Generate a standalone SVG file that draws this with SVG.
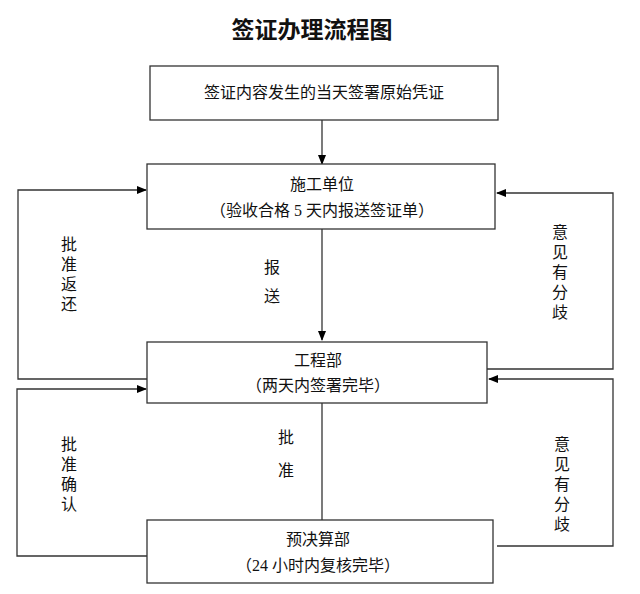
<svg xmlns="http://www.w3.org/2000/svg" width="640" height="594" viewBox="0 0 640 594">
<defs>
<marker id="ah" markerWidth="10" markerHeight="8" refX="9" refY="4" orient="auto" markerUnits="userSpaceOnUse"><path d="M0,0 L10,4 L0,8 Z" fill="#000"/></marker>
<style>
.box{fill:#fff;stroke:#333;stroke-width:1.3}
.t{font-family:"Liberation Serif","Noto Sans CJK SC",serif;font-size:16px;fill:#111;text-anchor:middle}
.ln{fill:none;stroke:#333;stroke-width:1.3}
</style>
</defs>
<rect width="640" height="594" fill="#fff"/>
<text x="312" y="38" class="t" style="font-size:23px;font-weight:bold;font-family:'Noto Sans CJK SC',sans-serif">签证办理流程图</text>
<g id="connectors">
<path class="ln" d="M322,120 V164" marker-end="url(#ah)"/>
<path class="ln" d="M322,229 V340" marker-end="url(#ah)"/>
<path class="ln" d="M322,403 V520"/>
<path class="ln" d="M147,379 H18 V190 H146" marker-end="url(#ah)"/>
<path class="ln" d="M147,556 H17 V389 H146" marker-end="url(#ah)"/>
<path class="ln" d="M487,369 H613 V193 H497" marker-end="url(#ah)"/>
<path class="ln" d="M497,546 H613 V379 H489" marker-end="url(#ah)"/>
<text class="t" x="272" y="273">报</text><text class="t" x="272" y="302">送</text>
<text class="t" x="286" y="443">批</text><text class="t" x="286" y="476">准</text>
<text class="t" x="69" y="250">批</text><text class="t" x="69" y="270">准</text><text class="t" x="69" y="290">返</text><text class="t" x="69" y="310">还</text>
<text class="t" x="69" y="450">批</text><text class="t" x="69" y="470">准</text><text class="t" x="69" y="490">确</text><text class="t" x="69" y="510">认</text>
<text class="t" x="560" y="238">意</text><text class="t" x="560" y="258">见</text><text class="t" x="560" y="278">有</text><text class="t" x="560" y="298">分</text><text class="t" x="560" y="318">歧</text>
<text class="t" x="562" y="450">意</text><text class="t" x="562" y="470">见</text><text class="t" x="562" y="490">有</text><text class="t" x="562" y="510">分</text><text class="t" x="562" y="530">歧</text>
</g>
<g id="n1"><rect class="box" x="150" y="66" width="348" height="54"/><text class="t" x="324" y="98">签证内容发生的当天签署原始凭证</text></g>
<g id="n2"><rect class="box" x="147" y="164" width="348" height="65"/><text class="t" x="322" y="190">施工单位</text><text class="t" x="322" y="216">（验收合格 5 天内报送签证单）</text></g>
<g id="n3"><rect class="box" x="147" y="342" width="340" height="61"/><text class="t" x="318" y="366">工程部</text><text class="t" x="318" y="391">（两天内签署完毕）</text></g>
<g id="n4"><rect class="box" x="147" y="520" width="346" height="63"/><text class="t" x="318" y="545">预决算部</text><text class="t" x="318" y="571">（24 小时内复核完毕）</text></g>
</svg>
